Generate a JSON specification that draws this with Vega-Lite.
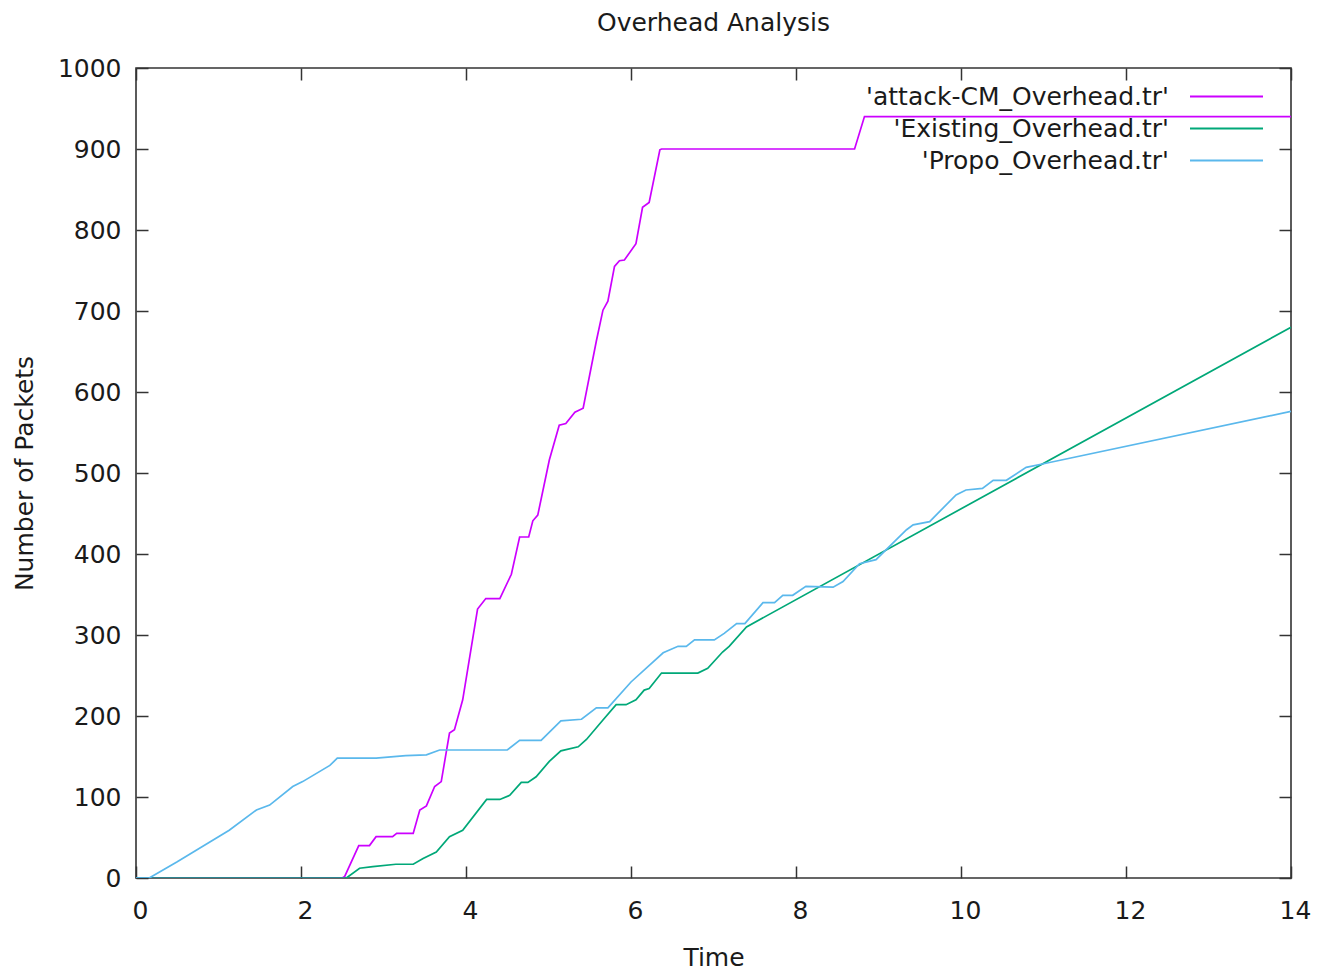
{
  "$schema": "https://vega.github.io/schema/vega-lite/v6.json",
  "width": 1155,
  "height": 810,
  "autosize": {"type": "none"},
  "padding": {"left": 136, "top": 68, "right": 38, "bottom": 92},
  "background": "white",
  "title": {"text": "Overhead Analysis", "fontSize": 25, "font": "DejaVu Sans", "fontWeight": "normal", "color": "#1a1a1a", "offset": 20},
  "config": {
    "view": {"stroke": "#333", "strokeWidth": 1.6},
    "axis": {"grid": false, "domain": false, "labelFont": "DejaVu Sans", "labelFontSize": 25, "labelColor": "#1a1a1a", "titleFont": "DejaVu Sans", "titleFontSize": 25, "titleFontWeight": "normal", "titleColor": "#1a1a1a", "tickColor": "#333", "tickWidth": 1.5, "tickSize": -12}
  },
  "data": {"values": [
    {"s": "'attack-CM_Overhead.tr'", "t": 0, "v": 0},
    {"s": "'attack-CM_Overhead.tr'", "t": 2.5, "v": 0},
    {"s": "'attack-CM_Overhead.tr'", "t": 2.53, "v": 2},
    {"s": "'attack-CM_Overhead.tr'", "t": 2.7, "v": 40},
    {"s": "'attack-CM_Overhead.tr'", "t": 2.83, "v": 40},
    {"s": "'attack-CM_Overhead.tr'", "t": 2.91, "v": 51},
    {"s": "'attack-CM_Overhead.tr'", "t": 3.11, "v": 51},
    {"s": "'attack-CM_Overhead.tr'", "t": 3.16, "v": 55},
    {"s": "'attack-CM_Overhead.tr'", "t": 3.36, "v": 55},
    {"s": "'attack-CM_Overhead.tr'", "t": 3.44, "v": 84},
    {"s": "'attack-CM_Overhead.tr'", "t": 3.52, "v": 89},
    {"s": "'attack-CM_Overhead.tr'", "t": 3.62, "v": 113},
    {"s": "'attack-CM_Overhead.tr'", "t": 3.7, "v": 119},
    {"s": "'attack-CM_Overhead.tr'", "t": 3.8, "v": 179},
    {"s": "'attack-CM_Overhead.tr'", "t": 3.86, "v": 183},
    {"s": "'attack-CM_Overhead.tr'", "t": 3.96, "v": 220},
    {"s": "'attack-CM_Overhead.tr'", "t": 4.14, "v": 332},
    {"s": "'attack-CM_Overhead.tr'", "t": 4.24, "v": 345},
    {"s": "'attack-CM_Overhead.tr'", "t": 4.41, "v": 345},
    {"s": "'attack-CM_Overhead.tr'", "t": 4.55, "v": 375},
    {"s": "'attack-CM_Overhead.tr'", "t": 4.65, "v": 421},
    {"s": "'attack-CM_Overhead.tr'", "t": 4.76, "v": 421},
    {"s": "'attack-CM_Overhead.tr'", "t": 4.81, "v": 441},
    {"s": "'attack-CM_Overhead.tr'", "t": 4.87, "v": 448},
    {"s": "'attack-CM_Overhead.tr'", "t": 5.01, "v": 516},
    {"s": "'attack-CM_Overhead.tr'", "t": 5.13, "v": 559},
    {"s": "'attack-CM_Overhead.tr'", "t": 5.21, "v": 561},
    {"s": "'attack-CM_Overhead.tr'", "t": 5.32, "v": 575},
    {"s": "'attack-CM_Overhead.tr'", "t": 5.42, "v": 580},
    {"s": "'attack-CM_Overhead.tr'", "t": 5.58, "v": 663},
    {"s": "'attack-CM_Overhead.tr'", "t": 5.66, "v": 701},
    {"s": "'attack-CM_Overhead.tr'", "t": 5.72, "v": 712},
    {"s": "'attack-CM_Overhead.tr'", "t": 5.8, "v": 755},
    {"s": "'attack-CM_Overhead.tr'", "t": 5.86, "v": 762},
    {"s": "'attack-CM_Overhead.tr'", "t": 5.92, "v": 763},
    {"s": "'attack-CM_Overhead.tr'", "t": 6.06, "v": 783},
    {"s": "'attack-CM_Overhead.tr'", "t": 6.14, "v": 828},
    {"s": "'attack-CM_Overhead.tr'", "t": 6.22, "v": 834},
    {"s": "'attack-CM_Overhead.tr'", "t": 6.35, "v": 899},
    {"s": "'attack-CM_Overhead.tr'", "t": 6.37, "v": 900},
    {"s": "'attack-CM_Overhead.tr'", "t": 8.71, "v": 900},
    {"s": "'attack-CM_Overhead.tr'", "t": 8.83, "v": 940},
    {"s": "'attack-CM_Overhead.tr'", "t": 14, "v": 940},
    {"s": "'Existing_Overhead.tr'", "t": 0, "v": 0},
    {"s": "'Existing_Overhead.tr'", "t": 2.55, "v": 0},
    {"s": "'Existing_Overhead.tr'", "t": 2.71, "v": 12},
    {"s": "'Existing_Overhead.tr'", "t": 2.87, "v": 14},
    {"s": "'Existing_Overhead.tr'", "t": 3.15, "v": 17},
    {"s": "'Existing_Overhead.tr'", "t": 3.36, "v": 17},
    {"s": "'Existing_Overhead.tr'", "t": 3.48, "v": 24},
    {"s": "'Existing_Overhead.tr'", "t": 3.64, "v": 32},
    {"s": "'Existing_Overhead.tr'", "t": 3.8, "v": 51},
    {"s": "'Existing_Overhead.tr'", "t": 3.96, "v": 59},
    {"s": "'Existing_Overhead.tr'", "t": 4.25, "v": 97},
    {"s": "'Existing_Overhead.tr'", "t": 4.41, "v": 97},
    {"s": "'Existing_Overhead.tr'", "t": 4.53, "v": 102},
    {"s": "'Existing_Overhead.tr'", "t": 4.67, "v": 118},
    {"s": "'Existing_Overhead.tr'", "t": 4.75, "v": 118},
    {"s": "'Existing_Overhead.tr'", "t": 4.85, "v": 125},
    {"s": "'Existing_Overhead.tr'", "t": 5.01, "v": 144},
    {"s": "'Existing_Overhead.tr'", "t": 5.15, "v": 157},
    {"s": "'Existing_Overhead.tr'", "t": 5.36, "v": 162},
    {"s": "'Existing_Overhead.tr'", "t": 5.46, "v": 171},
    {"s": "'Existing_Overhead.tr'", "t": 5.66, "v": 195},
    {"s": "'Existing_Overhead.tr'", "t": 5.82, "v": 214},
    {"s": "'Existing_Overhead.tr'", "t": 5.94, "v": 214},
    {"s": "'Existing_Overhead.tr'", "t": 6.06, "v": 220},
    {"s": "'Existing_Overhead.tr'", "t": 6.16, "v": 232},
    {"s": "'Existing_Overhead.tr'", "t": 6.22, "v": 234},
    {"s": "'Existing_Overhead.tr'", "t": 6.37, "v": 253},
    {"s": "'Existing_Overhead.tr'", "t": 6.81, "v": 253},
    {"s": "'Existing_Overhead.tr'", "t": 6.93, "v": 259},
    {"s": "'Existing_Overhead.tr'", "t": 7.11, "v": 279},
    {"s": "'Existing_Overhead.tr'", "t": 7.19, "v": 286},
    {"s": "'Existing_Overhead.tr'", "t": 7.4, "v": 310},
    {"s": "'Existing_Overhead.tr'", "t": 14, "v": 680},
    {"s": "'Propo_Overhead.tr'", "t": 0, "v": 0},
    {"s": "'Propo_Overhead.tr'", "t": 0.16, "v": 0},
    {"s": "'Propo_Overhead.tr'", "t": 0.5, "v": 20},
    {"s": "'Propo_Overhead.tr'", "t": 1.13, "v": 59},
    {"s": "'Propo_Overhead.tr'", "t": 1.46, "v": 84},
    {"s": "'Propo_Overhead.tr'", "t": 1.62, "v": 90},
    {"s": "'Propo_Overhead.tr'", "t": 1.9, "v": 113},
    {"s": "'Propo_Overhead.tr'", "t": 2.02, "v": 119},
    {"s": "'Propo_Overhead.tr'", "t": 2.35, "v": 139},
    {"s": "'Propo_Overhead.tr'", "t": 2.44, "v": 148},
    {"s": "'Propo_Overhead.tr'", "t": 2.91, "v": 148},
    {"s": "'Propo_Overhead.tr'", "t": 3.27, "v": 151},
    {"s": "'Propo_Overhead.tr'", "t": 3.52, "v": 152},
    {"s": "'Propo_Overhead.tr'", "t": 3.68, "v": 158},
    {"s": "'Propo_Overhead.tr'", "t": 4.5, "v": 158},
    {"s": "'Propo_Overhead.tr'", "t": 4.65, "v": 170},
    {"s": "'Propo_Overhead.tr'", "t": 4.91, "v": 170},
    {"s": "'Propo_Overhead.tr'", "t": 5.15, "v": 194},
    {"s": "'Propo_Overhead.tr'", "t": 5.4, "v": 196},
    {"s": "'Propo_Overhead.tr'", "t": 5.58, "v": 210},
    {"s": "'Propo_Overhead.tr'", "t": 5.72, "v": 210},
    {"s": "'Propo_Overhead.tr'", "t": 6.0, "v": 242},
    {"s": "'Propo_Overhead.tr'", "t": 6.39, "v": 278},
    {"s": "'Propo_Overhead.tr'", "t": 6.57, "v": 286},
    {"s": "'Propo_Overhead.tr'", "t": 6.67, "v": 286},
    {"s": "'Propo_Overhead.tr'", "t": 6.77, "v": 294},
    {"s": "'Propo_Overhead.tr'", "t": 7.01, "v": 294},
    {"s": "'Propo_Overhead.tr'", "t": 7.13, "v": 302},
    {"s": "'Propo_Overhead.tr'", "t": 7.28, "v": 314},
    {"s": "'Propo_Overhead.tr'", "t": 7.38, "v": 314},
    {"s": "'Propo_Overhead.tr'", "t": 7.6, "v": 340},
    {"s": "'Propo_Overhead.tr'", "t": 7.74, "v": 340},
    {"s": "'Propo_Overhead.tr'", "t": 7.84, "v": 349},
    {"s": "'Propo_Overhead.tr'", "t": 7.96, "v": 349},
    {"s": "'Propo_Overhead.tr'", "t": 8.12, "v": 360},
    {"s": "'Propo_Overhead.tr'", "t": 8.45, "v": 359},
    {"s": "'Propo_Overhead.tr'", "t": 8.57, "v": 366},
    {"s": "'Propo_Overhead.tr'", "t": 8.77, "v": 388},
    {"s": "'Propo_Overhead.tr'", "t": 8.97, "v": 393},
    {"s": "'Propo_Overhead.tr'", "t": 9.34, "v": 430},
    {"s": "'Propo_Overhead.tr'", "t": 9.42, "v": 436},
    {"s": "'Propo_Overhead.tr'", "t": 9.62, "v": 440},
    {"s": "'Propo_Overhead.tr'", "t": 9.94, "v": 473},
    {"s": "'Propo_Overhead.tr'", "t": 10.06, "v": 479},
    {"s": "'Propo_Overhead.tr'", "t": 10.26, "v": 481},
    {"s": "'Propo_Overhead.tr'", "t": 10.39, "v": 491},
    {"s": "'Propo_Overhead.tr'", "t": 10.55, "v": 491},
    {"s": "'Propo_Overhead.tr'", "t": 10.79, "v": 507},
    {"s": "'Propo_Overhead.tr'", "t": 11.03, "v": 512},
    {"s": "'Propo_Overhead.tr'", "t": 14, "v": 576}
  ]},
  "layer": [
    {
      "mark": {"type": "line", "strokeWidth": 1.7, "clip": true},
      "encoding": {
        "x": {"field": "t", "type": "quantitative", "scale": {"domain": [0, 14], "nice": false, "zero": false},
              "axis": {"title": "Time", "values": [0, 2, 4, 6, 8, 10, 12, 14], "format": "d", "labelFlush": false, "labelOffset": 4, "labelPadding": 32, "titleY": 79, "titleBaseline": "middle"}},
        "y": {"field": "v", "type": "quantitative", "scale": {"domain": [0, 1000], "nice": false},
              "axis": {"title": "Number of Packets", "values": [0, 100, 200, 300, 400, 500, 600, 700, 800, 900, 1000], "format": "d", "labelFlush": false, "labelPadding": 27, "titleX": -112, "titleY": 405, "titleAngle": -90, "titleAlign": "center", "titleBaseline": "middle"}},
        "color": {"field": "s", "type": "nominal",
                  "scale": {"domain": ["'attack-CM_Overhead.tr'", "'Existing_Overhead.tr'", "'Propo_Overhead.tr'"], "range": ["#cc00ff", "#00a878", "#5ab8ec"]},
                  "sort": null,
                  "legend": {"title": null, "orient": "none", "legendX": 1077, "legendY": 15, "columns": 1, "symbolType": "M-3,0H3", "symbolSize": 592, "symbolStrokeWidth": 1.8, "symbolFillColor": "transparent", "labelAlign": "right", "labelOffset": -71, "labelFont": "DejaVu Sans", "labelFontSize": 25, "labelColor": "#1a1a1a", "labelLimit": 0, "rowPadding": 5}}
      }
    },
    {
      "mark": {"type": "line", "opacity": 0},
      "encoding": {
        "x": {"field": "t", "type": "quantitative", "axis": {"orient": "top", "labels": false, "title": null, "values": [0, 2, 4, 6, 8, 10, 12, 14]}},
        "y": {"field": "v", "type": "quantitative", "axis": {"orient": "right", "labels": false, "title": null, "values": [0, 100, 200, 300, 400, 500, 600, 700, 800, 900, 1000]}},
        "detail": {"field": "s"}
      }
    }
  ],
  "resolve": {"axis": {"x": "independent", "y": "independent"}}
}
